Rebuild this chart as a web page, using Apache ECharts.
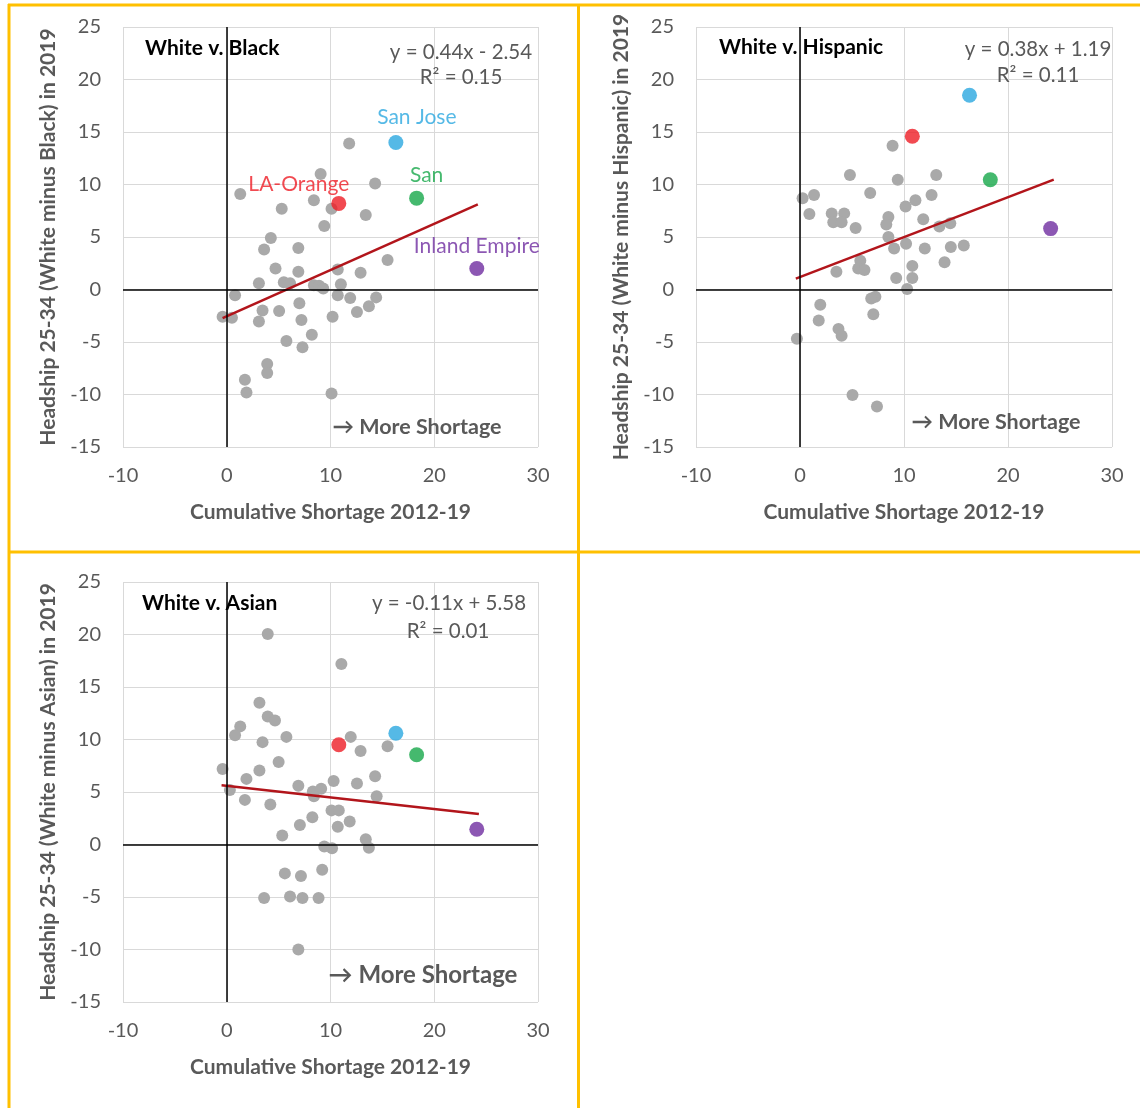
<!DOCTYPE html>
<html>
<head>
<meta charset="utf-8">
<script src="https://cdn.jsdelivr.net/npm/echarts@6/dist/echarts.min.js"></script>
<style>
html,body{margin:0;padding:0;background:#fff;}
#chart{width:1140px;height:1108px;}
</style>
</head>
<body>
<div id="chart"></div>
<script>
// ---------- DATA ----------
const xTicks = [-10, 0, 10, 20, 30];
const yTicks = [-15, -10, -5, 0, 5, 10, 15, 20, 25];
const highlightNames = ['San Jose', 'LA-Orange', 'San', 'Inland Empire'];

// White v. Black
const blackOther = [
  [11.8,13.9],[9.05,11.0],[14.3,10.1],[1.3,9.1],[8.4,8.5],[10.1,7.7],[5.3,7.7],[13.4,7.1],
  [9.4,6.05],[4.25,4.9],[3.6,3.8],[6.9,3.95],[15.5,2.8],[4.7,2.0],[6.9,1.7],[10.7,1.9],
  [12.9,1.6],[3.1,0.6],[5.5,0.7],[6.1,0.6],[8.4,0.4],[8.9,0.35],[9.3,0.1],[11.0,0.5],
  [0.8,-0.55],[10.7,-0.55],[11.9,-0.8],[14.4,-0.75],[13.7,-1.6],[7.0,-1.3],[3.45,-2.0],
  [5.05,-2.05],[12.55,-2.15],[-0.4,-2.6],[0.5,-2.7],[3.1,-3.05],[7.2,-2.9],[10.2,-2.6],
  [8.2,-4.3],[5.75,-4.9],[7.3,-5.5],[3.9,-7.1],[3.9,-7.96],[1.75,-8.6],[1.9,-9.8],[10.1,-9.9]
];
const blackHighlight = [[16.3,14.0],[10.8,8.2],[18.3,8.7],[24.1,2.0]];
const blackTrend = [[-0.4,-2.72],[24.2,8.11]];

// White v. Hispanic
const hispOther = [
  [8.9,13.7],[4.8,10.9],[9.4,10.45],[13.1,10.9],[0.25,8.7],[1.35,9.0],[6.75,9.2],[12.65,9.0],
  [11.1,8.5],[10.15,7.9],[0.9,7.2],[3.05,7.25],[4.25,7.25],[3.2,6.4],[4.0,6.4],[5.35,5.85],
  [8.5,6.9],[8.3,6.2],[11.85,6.7],[13.4,6.0],[14.45,6.3],[8.5,5.0],[10.2,4.35],[9.05,3.9],
  [12.0,3.9],[14.5,4.05],[15.75,4.2],[13.9,2.6],[5.8,2.75],[5.6,2.0],[6.2,1.85],[3.5,1.7],
  [10.8,2.25],[9.25,1.1],[10.8,1.1],[10.3,0.05],[7.25,-0.7],[6.85,-0.85],[1.95,-1.45],
  [7.05,-2.35],[1.8,-2.95],[3.7,-3.75],[4.0,-4.4],[-0.3,-4.7],[5.05,-10.05],[7.4,-11.15]
];
const hispHighlight = [[16.3,18.5],[10.8,14.6],[18.3,10.45],[24.1,5.8]];
const hispTrend = [[-0.4,1.04],[24.4,10.46]];

// White v. Asian
const asianOther = [
  [3.95,20.05],[11.05,17.2],[3.15,13.5],[3.95,12.2],[4.65,11.8],[1.3,11.25],[0.8,10.4],
  [3.45,9.75],[5.75,10.25],[11.95,10.25],[12.9,8.9],[15.5,9.35],[5.0,7.85],[3.15,7.05],
  [-0.4,7.2],[1.9,6.25],[10.3,6.05],[12.55,5.8],[14.3,6.5],[6.9,5.6],[8.3,5.05],[9.1,5.3],
  [8.4,4.6],[0.3,5.2],[1.75,4.25],[4.2,3.8],[14.45,4.6],[10.1,3.25],[10.8,3.25],[8.25,2.6],
  [11.85,2.2],[7.05,1.85],[10.7,1.7],[5.35,0.85],[13.4,0.5],[13.7,-0.3],[9.4,-0.2],
  [10.15,-0.35],[9.2,-2.4],[5.6,-2.75],[7.15,-3.0],[3.6,-5.1],[6.1,-4.95],[7.3,-5.1],
  [8.85,-5.1],[6.9,-10.0]
];
const asianHighlight = [[16.3,10.6],[10.8,9.5],[18.3,8.55],[24.1,1.45]];
const asianTrend = [[-0.5,5.64],[24.3,2.91]];

const panelTitles = ['White v. Black', 'White v. Hispanic', 'White v. Asian'];
const equations = ['y = 0.44x - 2.54', 'y = 0.38x + 1.19', 'y = -0.11x + 5.58'];
const rSquared = ['R\u00b2 = 0.15', 'R\u00b2 = 0.11', 'R\u00b2 = 0.01'];
const yTitles = [
  'Headship 25-34 (White minus Black) in 2019',
  'Headship 25-34 (White minus Hispanic) in 2019',
  'Headship 25-34 (White minus Asian) in 2019'
];
const xTitle = 'Cumulative Shortage 2012-19';
const shortageNote = '\u2192 More Shortage';

// ---------- STYLE ----------
const FONT = 'Lato, "Open Sans", sans-serif';
const GRAY_TXT = '#595959';
const HL_COLORS = ['#2AA8E0', '#EE1D25', '#16A84A', '#6F2DA0'];
const HL_LABEL_OFFSETS = [[21, -2], [-40, 4], [10, 0], [0, 1]];
const grids = [
  {left: 123, top: 27, width: 415, height: 420},
  {left: 696, top: 27, width: 416, height: 420},
  {left: 123, top: 582, width: 415, height: 420}
];

const others = [blackOther, hispOther, asianOther];
const highlights = [blackHighlight, hispHighlight, asianHighlight];
const trends = [blackTrend, hispTrend, asianTrend];

const xAxes = [], yAxes = [], series = [];
grids.forEach((g, i) => {
  xAxes.push({
    gridIndex: i, type: 'value', min: xTicks[0], max: xTicks[xTicks.length - 1], interval: 10,
    axisLine: {show: false}, axisTick: {show: false},
    splitLine: {show: true, lineStyle: {color: '#D9D9D9', width: 1}},
    axisLabel: {color: GRAY_TXT, fontSize: 20, fontFamily: FONT, margin: 19},
    name: xTitle, nameLocation: 'middle', nameGap: 55,
    nameTextStyle: {color: GRAY_TXT, fontSize: 21, fontWeight: 'bold', fontFamily: FONT}
  });
  yAxes.push({
    gridIndex: i, type: 'value', min: yTicks[0], max: yTicks[yTicks.length - 1], interval: 5,
    axisLine: {show: false}, axisTick: {show: false},
    splitLine: {show: true, lineStyle: {color: '#D9D9D9', width: 1}},
    axisLabel: {color: GRAY_TXT, fontSize: 20, fontFamily: FONT, margin: 22},
    name: yTitles[i], nameLocation: 'middle', nameGap: 64, nameRotate: 90,
    nameTextStyle: {color: GRAY_TXT, fontSize: 21, fontWeight: 'bold', fontFamily: FONT}
  });
  series.push({
    type: 'scatter', xAxisIndex: i, yAxisIndex: i, data: others[i],
    symbolSize: 12, itemStyle: {color: '#A9A9A9', opacity: 1},
    z: 2,
    markLine: {
      silent: true, symbol: 'none', animation: false,
      label: {show: false},
      lineStyle: {color: '#000', width: 1.5, type: 'solid'},
      data: [{xAxis: 0}, {yAxis: 0}]
    }
  });
  series.push({
    type: 'line', xAxisIndex: i, yAxisIndex: i, data: trends[i],
    showSymbol: false, symbol: 'none', z: 3,
    lineStyle: {color: '#B2151B', width: 2.5}
  });
  series.push({
    type: 'scatter', xAxisIndex: i, yAxisIndex: i, z: 4,
    data: highlights[i].map((p, k) => ({
      value: p, name: highlightNames[k],
      itemStyle: {color: HL_COLORS[k]},
      label: {
        show: i === 0, formatter: highlightNames[k], position: 'top',
        offset: HL_LABEL_OFFSETS[k], color: HL_COLORS[k],
        fontSize: 21, fontFamily: FONT
      }
    })),
    symbolSize: 15
  });
});

// annotation text positions
const titlePos = [[145, 48], [719, 47], [142, 603]];
const eqPos = [[461, 52], [1038, 49], [449, 603]];
const r2Pos = [[461, 77], [1038, 75], [448, 631]];
const notePos = [[417, 427], [996, 422], [423, 975]];
const noteSize = [21.5, 21.5, 24];

const graphic = [];
for (let i = 0; i < 3; i++) {
  graphic.push({type: 'text', z: 100, style: {text: panelTitles[i], x: titlePos[i][0], y: titlePos[i][1],
    font: 'bold 21px ' + FONT, fill: '#000', verticalAlign: 'middle', align: 'left'}});
  graphic.push({type: 'text', z: 100, style: {text: equations[i], x: eqPos[i][0], y: eqPos[i][1],
    font: '20.5px ' + FONT, fill: GRAY_TXT, verticalAlign: 'middle', align: 'center'}});
  graphic.push({type: 'text', z: 100, style: {text: rSquared[i], x: r2Pos[i][0], y: r2Pos[i][1],
    font: '20.5px ' + FONT, fill: GRAY_TXT, verticalAlign: 'middle', align: 'center'}});
  graphic.push({type: 'text', z: 100, style: {text: shortageNote, x: notePos[i][0], y: notePos[i][1],
    font: 'bold ' + noteSize[i] + 'px ' + FONT, fill: GRAY_TXT, verticalAlign: 'middle', align: 'center'}});
}
// yellow panel frames
const Y = '#FFC000';
[[8, 5, 1140, 5], [9, 4, 9, 1108], [578.5, 4, 578.5, 1108], [8, 552, 1140, 552]].forEach(l => {
  graphic.push({type: 'line', z: 50, shape: {x1: l[0], y1: l[1], x2: l[2], y2: l[3]},
    style: {stroke: Y, lineWidth: 3}});
});

const chart = echarts.init(document.getElementById('chart'), null, {renderer: 'canvas'});
chart.setOption({
  animation: false,
  backgroundColor: '#fff',
  grid: grids,
  xAxis: xAxes,
  yAxis: yAxes,
  series: series,
  graphic: graphic
});
</script>
</body>
</html>
